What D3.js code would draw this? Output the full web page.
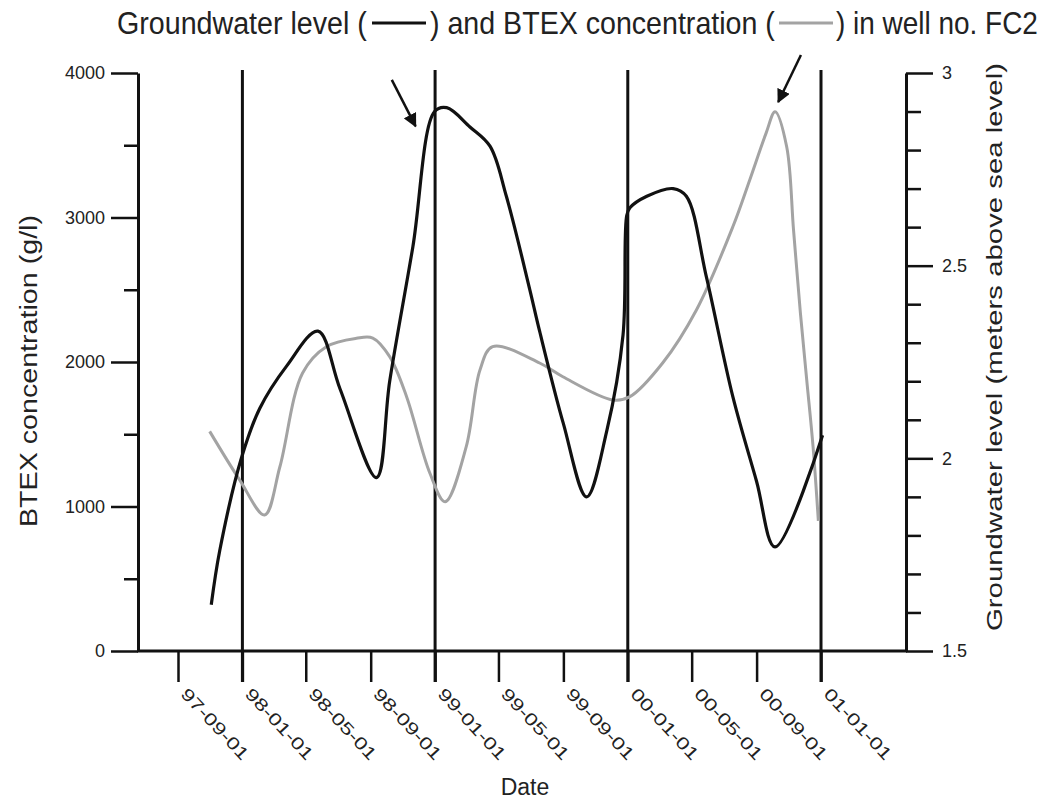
<!DOCTYPE html>
<html>
<head>
<meta charset="utf-8">
<script src="https://cdnjs.cloudflare.com/ajax/libs/d3/7.8.5/d3.min.js"></script>
<style>
  body { margin: 0; background: #fff; }
  svg { display: block; font-family: "Liberation Sans", Arial, sans-serif; }
  .axis path, .axis line { stroke: #111; }
</style>
</head>
<body>
<div id="chart"></div>
<script>
// groundwater level (right axis, m above sea level)
var levelDates = ["1997-11-03","1997-11-19","1997-12-30","1998-02-03","1998-03-26","1998-05-24",
  "1998-07-05","1998-09-12","1998-10-07","1998-11-20","1998-12-31","1999-01-23",
  "1999-03-08","1999-04-15","1999-05-16","1999-06-29","1999-07-18","1999-09-01","1999-10-15",
  "1999-11-22","1999-12-23","1999-12-30","2000-01-05","2000-02-06","2000-03-27","2000-04-21",
  "2000-05-29","2000-07-18","2000-09-01","2000-10-06","2001-01-04"];
var levelValues = [1.62,1.76,2.00,2.13,2.24,2.33,
  2.18,1.95,2.20,2.55,2.90,2.91,
  2.86,2.81,2.68,2.44,2.33,2.09,1.90,
  2.07,2.32,2.63,2.65,2.68,2.70,2.68,
  2.47,2.16,1.94,1.77,2.06];

// BTEX concentration (left axis)
var btexDates = ["1997-10-31","1997-12-27","1998-02-12","1998-03-13","1998-04-25","1998-06-09",
  "1998-08-05","1998-09-05","1998-10-07","1998-11-08","1998-12-22","1999-01-20","1999-03-01",
  "1999-03-27","1999-04-20","1999-07-18","1999-08-31","1999-12-04","2000-01-05","2000-03-07",
  "2000-05-10","2000-07-18","2000-08-19","2000-09-19","2000-10-06","2000-10-28","2000-11-10",
  "2000-11-23","2000-12-05","2000-12-17","2000-12-27"];
var btexValues = [1520,1183,941,1275,1924,2106,
  2164,2166,2037,1760,1232,1033,1414,
  1945,2106,1993,1898,1737,1760,1993,
  2360,2936,3260,3584,3732,3490,2913,
  2339,1875,1412,900];

var dateTicks = ["1997-09-01","1998-01-01","1998-05-01","1998-09-01","1999-01-01","1999-05-01",
  "1999-09-01","2000-01-01","2000-05-01","2000-09-01","2001-01-01"];
var yearLines = ["1998-01-01","1999-01-01","2000-01-01","2001-01-01"];
var btexTicks = [0,1000,2000,3000,4000];
var btexMinor = [500,1500,2500,3500];
var levelTicks = [1.5,2,2.5,3];
var levelMinor = [1.6,1.7,1.8,1.9,2.1,2.2,2.3,2.4,2.6,2.7,2.8,2.9];

var parse = d3.utcParse("%Y-%m-%d");
var fmt = d3.utcFormat("%y-%m-%d");

var svg = d3.select("#chart").append("svg").attr("width", 1049).attr("height", 800);

var x = d3.scaleUtc().domain([parse("1997-09-01"), parse("2001-01-01")]).range([178, 821]);
var yL = d3.scaleLinear().domain([0, 4000]).range([651, 73]);
var yR = d3.scaleLinear().domain([1.5, 3]).range([651, 73]);

// left axis
svg.append("g").attr("class", "axis").attr("transform", "translate(138,0)")
  .call(d3.axisLeft(yL).tickValues(btexMinor).tickSize(14).tickFormat("").tickSizeOuter(0))
  .call(function (g) { g.select(".domain").remove(); });
var gl = svg.append("g").attr("class", "axis").attr("transform", "translate(138,0)")
  .call(d3.axisLeft(yL).tickValues(btexTicks).tickSize(27).tickPadding(6).tickSizeOuter(0)
    .tickFormat(d3.format("d")));
gl.selectAll("text").style("font-size", "18px").attr("fill", "#222");

// right axis
svg.append("g").attr("class", "axis").attr("transform", "translate(906,0)")
  .call(d3.axisRight(yR).tickValues(levelMinor).tickSize(15).tickFormat("").tickSizeOuter(0))
  .call(function (g) { g.select(".domain").remove(); });
var gr = svg.append("g").attr("class", "axis").attr("transform", "translate(906,0)")
  .call(d3.axisRight(yR).tickValues(levelTicks).tickSize(27).tickPadding(9).tickSizeOuter(0)
    .tickFormat(d3.format("")));
gr.selectAll("text").style("font-size", "18px").attr("fill", "#222");

svg.selectAll(".axis .domain").attr("stroke-width", 3);
svg.selectAll(".axis .tick line").attr("stroke-width", 2.5);

// bottom axis
svg.append("line").attr("x1", 137).attr("x2", 907).attr("y1", 651).attr("y2", 651)
  .attr("stroke", "#111").attr("stroke-width", 3);
var gb = svg.append("g").attr("class", "axis").attr("transform", "translate(0,651)")
  .call(d3.axisBottom(x).tickValues(dateTicks.map(parse)).tickSize(31).tickFormat("").tickSizeOuter(0))
  .call(function (g) { g.select(".domain").remove(); });
gb.selectAll(".tick line").attr("stroke-width", 2.5);

svg.append("g").selectAll("text").data(dateTicks).enter().append("text")
  .attr("transform", function (d) { return "translate(" + (x(parse(d)) + 11) + ",686) rotate(47)"; })
  .attr("dy", "0.75em")
  .attr("textLength", 91).attr("lengthAdjust", "spacingAndGlyphs")
  .style("font-size", "17px").attr("fill", "#222")
  .text(function (d) { return fmt(parse(d)); });

// year lines
svg.append("g").selectAll("line").data(yearLines).enter().append("line")
  .attr("x1", function (d) { return x(parse(d)); })
  .attr("x2", function (d) { return x(parse(d)); })
  .attr("y1", 70).attr("y2", 682)
  .attr("stroke", "#111").attr("stroke-width", 3);

// curves
var btex = btexDates.map(function (d, i) { return { date: parse(d), v: btexValues[i] }; });
var level = levelDates.map(function (d, i) { return { date: parse(d), v: levelValues[i] }; });

svg.append("path").datum(btex)
  .attr("fill", "none").attr("stroke", "#a3a3a3").attr("stroke-width", 3)
  .attr("d", d3.line().curve(d3.curveCatmullRom.alpha(0.5))
    .x(function (d) { return x(d.date); }).y(function (d) { return yL(d.v); }));

svg.append("path").datum(level)
  .attr("fill", "none").attr("stroke", "#111").attr("stroke-width", 3.2)
  .attr("d", d3.line().curve(d3.curveCatmullRom.alpha(0.5))
    .x(function (d) { return x(d.date); }).y(function (d) { return yR(d.v); }));

// arrows
svg.append("defs").append("marker").attr("id", "head")
  .attr("viewBox", "0 0 10 10").attr("refX", 9).attr("refY", 5)
  .attr("markerWidth", 5.5).attr("markerHeight", 5.5).attr("orient", "auto")
  .append("path").attr("d", "M0,0L10,5L0,10z").attr("fill", "#111");

var arrowLevel = { from: ["1998-10-11", 2.982], to: ["1998-11-25", 2.862] };
var arrowBtex = { from: ["2000-11-24", 4125], to: ["2000-10-12", 3799] };

svg.append("line")
  .attr("x1", x(parse(arrowLevel.from[0]))).attr("y1", yR(arrowLevel.from[1]))
  .attr("x2", x(parse(arrowLevel.to[0]))).attr("y2", yR(arrowLevel.to[1]))
  .attr("stroke", "#111").attr("stroke-width", 2.5).attr("marker-end", "url(#head)");
svg.append("line")
  .attr("x1", x(parse(arrowBtex.from[0]))).attr("y1", yL(arrowBtex.from[1]))
  .attr("x2", x(parse(arrowBtex.to[0]))).attr("y2", yL(arrowBtex.to[1]))
  .attr("stroke", "#111").attr("stroke-width", 2.5).attr("marker-end", "url(#head)");

// title with line samples; each piece squeezed to the width it has in the picture
var title = svg.append("g").style("font-size", "31px").attr("fill", "#222");
function titlePart(str, x0, width) {
  var t = title.append("text").text(str);
  var w = t.node().getComputedTextLength();
  t.attr("transform", "translate(" + x0 + ",34) scale(" + (width / w) + ",1)");
}
titlePart("Groundwater level (", 117, 250);
title.append("line").attr("x1", 372).attr("x2", 426).attr("y1", 23).attr("y2", 23)
  .attr("stroke", "#111").attr("stroke-width", 3);
titlePart(") and BTEX concentration (", 430, 345);
title.append("line").attr("x1", 779).attr("x2", 833).attr("y1", 23).attr("y2", 23)
  .attr("stroke", "#a3a3a3").attr("stroke-width", 3);
titlePart(") in well no. FC2", 836, 202);

// axis titles
svg.append("text").attr("transform", "translate(37,371) rotate(-90)")
  .attr("text-anchor", "middle").attr("textLength", 312).attr("lengthAdjust", "spacingAndGlyphs")
  .style("font-size", "23px").attr("fill", "#222").text("BTEX concentration (g/l)");
svg.append("text").attr("transform", "translate(1002,347) rotate(-90)")
  .attr("text-anchor", "middle").attr("textLength", 568).attr("lengthAdjust", "spacingAndGlyphs")
  .style("font-size", "22px").attr("fill", "#222").text("Groundwater level (meters above sea level)");
svg.append("text").attr("x", 525).attr("y", 795).attr("text-anchor", "middle")
  .style("font-size", "23px").attr("fill", "#222").text("Date");
</script>
</body>
</html>
